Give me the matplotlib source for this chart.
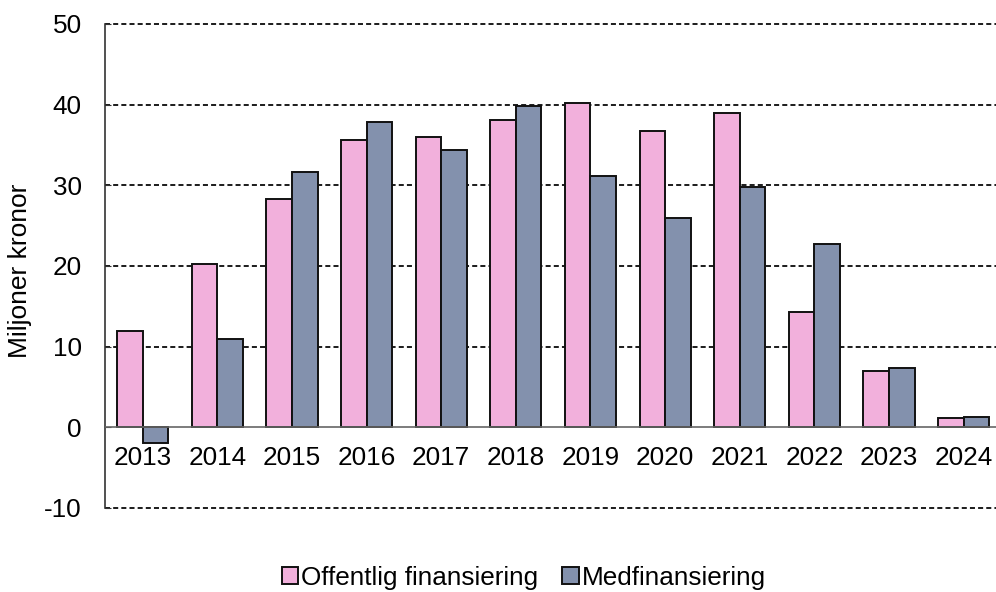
import matplotlib
matplotlib.use("Agg")
import matplotlib.pyplot as plt
import numpy as np

plt.rcParams["font.family"] = ["Liberation Sans", "DejaVu Sans"]

years = ["2013", "2014", "2015", "2016", "2017", "2018",
         "2019", "2020", "2021", "2022", "2023", "2024"]
offentlig = [12.0, 20.2, 28.3, 35.6, 36.0, 38.1, 40.2, 36.7, 39.0, 14.3, 7.0, 1.2]
medfin = [-1.9, 11.0, 31.7, 37.9, 34.4, 39.8, 31.2, 25.9, 29.8, 22.7, 7.4, 1.3]
yticks = [-10, 0, 10, 20, 30, 40, 50]

fig = plt.figure(figsize=(9.96, 5.92), dpi=100)
ax = fig.add_axes([0.1058, 0.1419, 0.8992, 0.8176])

x = np.arange(len(years))
w = 0.343
ax.bar(x - w / 2, offentlig, w, color="#F2B0DC", edgecolor="#111111",
       linewidth=1.4, label="Offentlig finansiering", zorder=3)
ax.bar(x + w / 2, medfin, w, color="#8391AD", edgecolor="#111111",
       linewidth=1.4, label="Medfinansiering", zorder=3)

ax.set_xlim(-0.5, len(years) - 0.5)
ax.set_ylim(-10, 50)
ax.set_yticks(yticks)
ax.set_yticklabels([str(t) for t in yticks], fontsize=18.8)
for t in [-10, 10, 20, 30, 40, 50]:
    ax.axhline(t, color="black", linewidth=1.25, linestyle=(0, (2.9, 1.8)),
               zorder=1, clip_on=False)
ax.axhline(0, color="#666666", linewidth=1.2, zorder=4)

ax.set_xticks([])
for i, yr in enumerate(years):
    ax.text(i, -2.3, yr, ha="center", va="top", fontsize=18.8)

for s in ["top", "right", "bottom"]:
    ax.spines[s].set_visible(False)
ax.spines["left"].set_color("#333333")
ax.spines["left"].set_linewidth(1.2)
ax.tick_params(axis="y", direction="in", length=4, color="#333333", pad=17)

ax.set_ylabel("Miljoner kronor", fontsize=19)
ax.yaxis.set_label_coords(-0.082, 0.49)

fig.legend(loc="center", bbox_to_anchor=(0.526, 0.024), ncol=2, frameon=False,
           fontsize=18.8, handlelength=0.62, handleheight=0.62, handletextpad=0.12,
           columnspacing=0.92)

fig.savefig("out.png", dpi=100)
